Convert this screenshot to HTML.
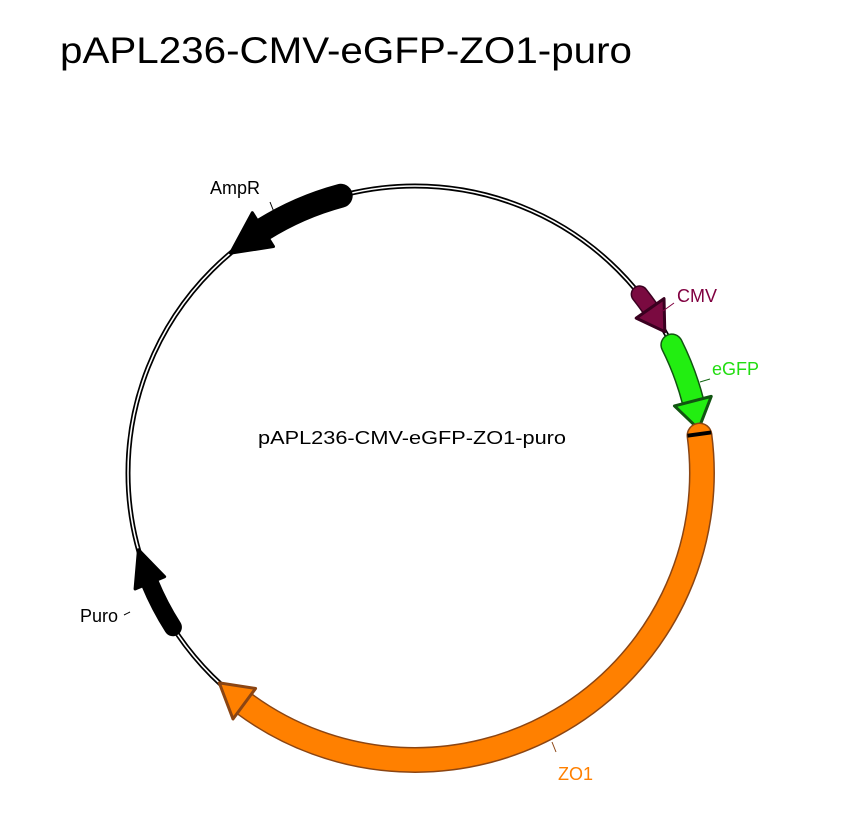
<!DOCTYPE html>
<html><head><meta charset="utf-8"><style>
body{margin:0;background:#fff;width:853px;height:835px;overflow:hidden}
svg{position:absolute;left:0;top:0}
text{font-family:"Liberation Sans",Arial,sans-serif}
</style></head><body>
<svg id="s" width="853" height="835" viewBox="0 0 853 835">
<text x="60" y="63" font-size="37" fill="#000" textLength="572" lengthAdjust="spacingAndGlyphs">pAPL236-CMV-eGFP-ZO1-puro</text>
<circle cx="415" cy="473" r="287" fill="none" stroke="#000" stroke-width="5"/>
<circle cx="415" cy="473" r="287" fill="none" stroke="#fff" stroke-width="1.6"/>
<g id="f"></g>
<text x="258" y="444" font-size="18" fill="#000" textLength="308" lengthAdjust="spacingAndGlyphs">pAPL236-CMV-eGFP-ZO1-puro</text>
<text x="210" y="194" font-size="18" fill="#000">AmpR</text>
<line x1="270" y1="202" x2="274" y2="212" stroke="#000" stroke-width="1"/>
<text x="677" y="302" font-size="18" fill="#800040">CMV</text>
<line x1="674" y1="303" x2="663" y2="311" stroke="#800040" stroke-width="1"/>
<text x="712" y="375" font-size="18" fill="#22dd11">eGFP</text>
<line x1="710" y1="379" x2="700" y2="382" stroke="#116611" stroke-width="1"/>
<text x="558" y="780" font-size="18" fill="#ff8000">ZO1</text>
<line x1="556" y1="752" x2="552" y2="742" stroke="#8b4513" stroke-width="1"/>
<text x="80" y="622" font-size="18" fill="#000">Puro</text>
<line x1="124" y1="615" x2="130" y2="612" stroke="#000" stroke-width="1"/>
</svg>
<script>
var cx=415,cy=473,R=287,g=document.getElementById('f');
function P(a,r){a=a*Math.PI/180;return [cx+r*Math.cos(a),cy+r*Math.sin(a)];}
function arc(a1,a2){var p1=P(a1,R),p2=P(a2,R),sw=a2>a1?1:0,lg=Math.abs(a2-a1)>180?1:0;
return 'M'+p1[0].toFixed(1)+' '+p1[1].toFixed(1)+' A'+R+' '+R+' 0 '+lg+' '+sw+' '+p2[0].toFixed(1)+' '+p2[1].toFixed(1);}
function feat(a1,ab,at,w,hw,fill,stroke){
 var s='';
 if(stroke){s+='<path d="'+arc(a1,ab)+'" fill="none" stroke="'+stroke+'" stroke-width="'+(w+3)+'" stroke-linecap="round"/>';}
 s+='<path d="'+arc(a1,ab)+'" fill="none" stroke="'+fill+'" stroke-width="'+w+'" stroke-linecap="round"/>';
 var b1=P(ab,R-hw),b2=P(ab,R+hw),t=P(at,R);
 s+='<polygon points="'+b1+' '+b2+' '+t+'" fill="'+fill+'" stroke="'+(stroke||fill)+'" stroke-width="3" stroke-linejoin="round"/>';
 g.innerHTML+=s;}
feat(-105,-122,-130,24,20,'#000',null);
feat(-38.5,-35,-29.5,15,17,'#7a0a40','#3a0020');
feat(-26.5,-14.5,-8.8,20,19,'#22ee11','#115511');
feat(-7.5,126.5,133,23,19,'#ff8000','#8b4513');
feat(147.5,157.5,164.5,18,16,'#000',null);
var m2=P(-7.8,R-12),m3=P(-7.8,R+12);
g.innerHTML+='<line x1="'+m2[0]+'" y1="'+m2[1]+'" x2="'+m3[0]+'" y2="'+m3[1]+'" stroke="#000" stroke-width="4"/>';
</script>
</body></html>
